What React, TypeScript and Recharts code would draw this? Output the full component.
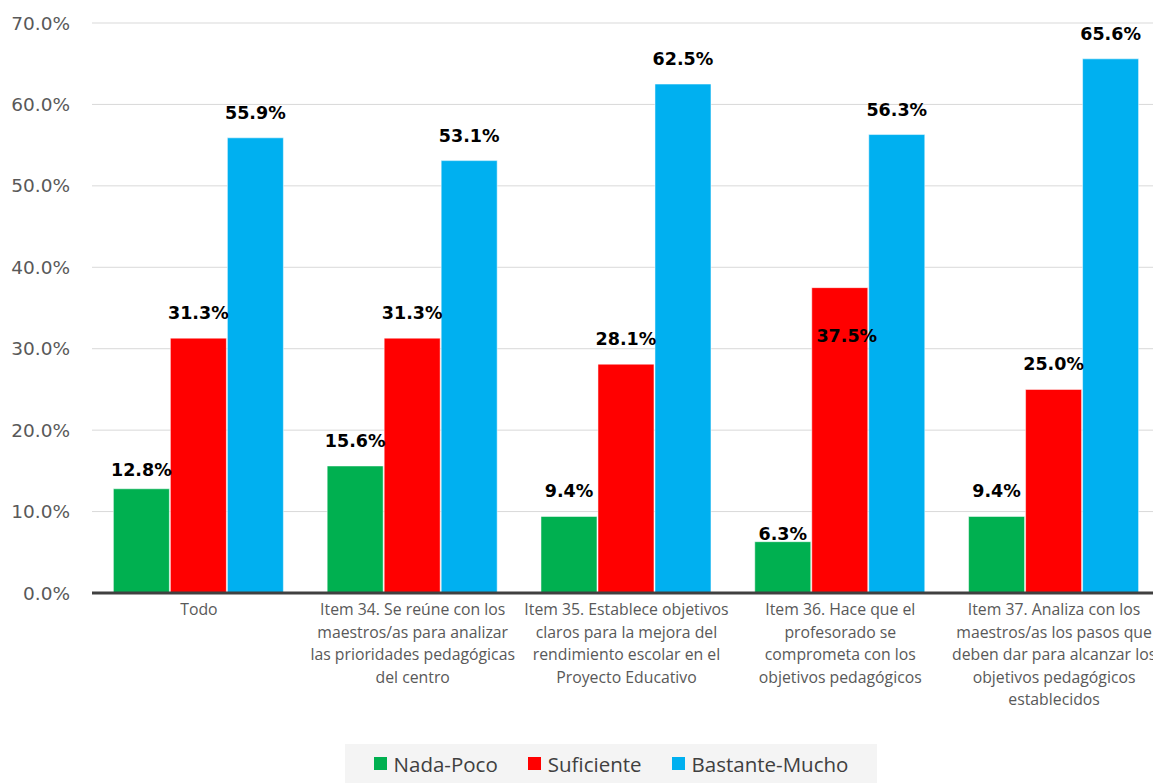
import React from 'react';
import { BarChart, Bar, XAxis, YAxis, CartesianGrid, Legend } from 'recharts';

const CATEGORIES = [
  'Todo',
  'Item 34. Se reúne con los\nmaestros/as para analizar\nlas prioridades pedagógicas\ndel centro',
  'Item 35. Establece objetivos\nclaros para la mejora del\nrendimiento escolar en el\nProyecto Educativo',
  'Item 36. Hace que el\nprofesorado se\ncomprometa con los\nobjetivos pedagógicos',
  'Item 37. Analiza con los\nmaestros/as los pasos que\ndeben dar para alcanzar los\nobjetivos pedagógicos\nestablecidos',
];
const NADA_POCO = [12.8, 15.6, 9.4, 6.3, 9.4];
const SUFICIENTE = [31.3, 31.3, 28.1, 37.5, 25.0];
const BASTANTE_MUCHO = [55.9, 53.1, 62.5, 56.3, 65.6];
const Y_TICKS = [0, 10, 20, 30, 40, 50, 60, 70];

const SERIES = [
  { key: 'nada', name: 'Nada-Poco', color: '#00B050', values: NADA_POCO },
  { key: 'suf', name: 'Suficiente', color: '#FF0000', values: SUFICIENTE },
  { key: 'bast', name: 'Bastante-Mucho', color: '#00B0F0', values: BASTANTE_MUCHO },
];

const data = CATEGORIES.map((c, i) => ({
  category: c,
  nada: NADA_POCO[i],
  suf: SUFICIENTE[i],
  bast: BASTANTE_MUCHO[i],
}));

// label placement tweaks (style only)
const labelLift = (key: string, index: number): [number, number] => {
  if (key === 'nada' && index === 0) return [0, 13];
  if (key === 'nada' && index === 3) return [0, 2];
  if (key === 'suf' && index === 3) return [7, -54];
  return [0, 19];
};

const makeLabel = (key: string) => (props: any) => {
  const { x, y, width, value, index } = props;
  const [dx, lift] = labelLift(key, index);
  return (
    <text
      x={Number(x) + Number(width) / 2 + dx}
      y={Number(y) - lift}
      textAnchor="middle"
      fontFamily="DejaVu Sans"
      fontWeight="bold"
      fontSize={17.5}
      fill="#000"
    >
      {Number(value).toFixed(1) + '%'}
    </text>
  );
};

const CategoryTick = (props: any) => {
  const { x, y, payload } = props;
  const lines = String(payload.value).split('\n');
  return (
    <g>
      {lines.map((l, i) => (
        <text
          key={i}
          x={x}
          y={y + 14 + i * 22.5}
          textAnchor="middle"
          fontFamily="Open Sans"
          fontSize={15.8}
          fill="#595959"
        >
          {l}
        </text>
      ))}
    </g>
  );
};

const LegendContent = () => (
  <div
    style={{
      background: '#f4f4f4',
      height: 39,
      display: 'flex',
      alignItems: 'center',
      justifyContent: 'center',
      fontFamily: 'Open Sans',
      fontSize: 20.5,
      color: '#404040',
    }}
  >
    {SERIES.map((s) => (
      <div key={s.key} style={{ display: 'flex', alignItems: 'center', margin: '0 15px' }}>
        <span style={{ width: 13, height: 13, background: s.color, marginRight: 7, display: 'inline-block' }} />
        <span>{s.name}</span>
      </div>
    ))}
  </div>
);

export default function App() {
  return (
    <div style={{ position: 'fixed', left: 0, top: 0, width: 1153, height: 783, overflow: 'hidden', background: '#fff' }}>
      <BarChart
        width={1161}
        height={783}
        data={data}
        margin={{ top: 23, right: 0, left: 0, bottom: 0 }}
        barCategoryGap="10%"
        barGap={1}
      >
        <CartesianGrid vertical={false} stroke="#d9d9d9" strokeWidth={1} />
        <XAxis
          dataKey="category"
          interval={0}
          tickLine={false}
          axisLine={{ stroke: '#404040', strokeWidth: 3 }}
          height={151}
          tick={<CategoryTick />}
        />
        <YAxis
          width={92}
          domain={[0, 70]}
          ticks={Y_TICKS}
          tickLine={false}
          axisLine={false}
          tickSize={0}
          tickMargin={22}
          tickFormatter={(v: number) => v.toFixed(1) + '%'}
          tick={{ fontFamily: 'DejaVu Sans', fontSize: 18.5, fill: '#595959' }}
        />
        <Legend
          verticalAlign="bottom"
          height={39}
          wrapperStyle={{ left: 345, width: 532 }}
          content={<LegendContent />}
        />
        {SERIES.map((s) => (
          <Bar
            key={s.key}
            dataKey={s.key}
            name={s.name}
            fill={s.color}
            stroke="#ffffff"
            strokeOpacity={0.5}
            strokeWidth={1}
            isAnimationActive={false}
            label={makeLabel(s.key)}
          />
        ))}
      </BarChart>
    </div>
  );
}
